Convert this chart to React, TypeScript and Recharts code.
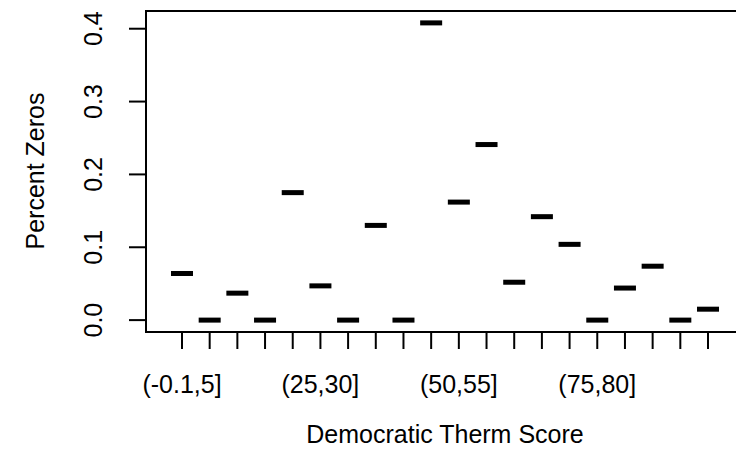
import React from 'react';
import { ScatterChart, Scatter, XAxis, YAxis, Label } from 'recharts';

// Democratic thermometer bins and share of zeros in each
const CATEGORIES = [
  '(-0.1,5]', '(5,10]', '(10,15]', '(15,20]', '(20,25]',
  '(25,30]', '(30,35]', '(35,40]', '(40,45]', '(45,50]',
  '(50,55]', '(55,60]', '(60,65]', '(65,70]', '(70,75]',
  '(75,80]', '(80,85]', '(85,90]', '(90,95]', '(95,100]'
];
const PERCENT_ZEROS = [
  0.064, 0, 0.037, 0, 0.175,
  0.047, 0, 0.130, 0, 0.408,
  0.162, 0.241, 0.052, 0.142, 0.104,
  0, 0.044, 0.074, 0, 0.015
];
// only these bin labels fit under the axis
const SHOWN_LABELS = ['(-0.1,5]', '(25,30]', '(50,55]', '(75,80]'];
const Y_TICKS = [0, 0.1, 0.2, 0.3, 0.4];

const FONT = '"Liberation Sans", Arial, sans-serif';

const data = CATEGORIES.map((name, i) => ({ pos: i + 1, value: PERCENT_ZEROS[i], name }));
const xTicks = CATEGORIES.map((_, i) => i + 1);

// R-style padding: 4% beyond the data range
const yMax = Math.max(...PERCENT_ZEROS);
const yDomain = [-yMax * 0.04, yMax * 1.04];
const xDomain = [0.5 - 0.8, CATEGORIES.length + 0.5 + 0.8];

const XTick = (props: any) => {
  const { x, payload } = props;
  const name = CATEGORIES[payload.value - 1];
  if (!SHOWN_LABELS.includes(name)) return <g />;
  return (
    <text x={x} y={393} textAnchor="middle" fontFamily={FONT} fontSize={25} fill="#000">
      {name}
    </text>
  );
};

const YTick = (props: any) => {
  const { y, payload } = props;
  return (
    <text
      x={102}
      y={y}
      transform={`rotate(-90, 102, ${y})`}
      textAnchor="middle"
      fontFamily={FONT}
      fontSize={25}
      fill="#000"
    >
      {payload.value.toFixed(1)}
    </text>
  );
};

const MedianBar = (props: any) => {
  const { cx, cy } = props;
  return <rect x={cx - 11} y={cy - 2.5} width={22} height={5} fill="#000" />;
};

export default function App() {
  return (
    <div style={{ position: 'absolute', left: 0, top: 0, width: 736, height: 470, overflow: 'hidden', background: '#fff' }}>
      <ScatterChart width={744} height={470} margin={{ top: 11, right: 0, bottom: 0, left: 0 }}>
        <XAxis
          type="number"
          dataKey="pos"
          domain={xDomain}
          ticks={xTicks}
          interval={0}
          allowDataOverflow
          height={138}
          tickSize={17}
          tick={<XTick />}
          axisLine={{ stroke: '#000', strokeWidth: 2 }}
          tickLine={{ stroke: '#000', strokeWidth: 2 }}
        >
          <Label
            content={() => (
              <text x={445} y={443} textAnchor="middle" fontFamily={FONT} fontSize={25} fill="#000">
                Democratic Therm Score
              </text>
            )}
          />
        </XAxis>
        <YAxis
          type="number"
          dataKey="value"
          domain={yDomain}
          ticks={Y_TICKS}
          interval={0}
          allowDataOverflow
          width={146}
          tickSize={17}
          tick={<YTick />}
          axisLine={{ stroke: '#000', strokeWidth: 2 }}
          tickLine={{ stroke: '#000', strokeWidth: 2 }}
        >
          <Label
            content={() => (
              <text
                x={44}
                y={171}
                transform="rotate(-90, 44, 171)"
                textAnchor="middle"
                fontFamily={FONT}
                fontSize={25}
                fill="#000"
              >
                Percent Zeros
              </text>
            )}
          />
        </YAxis>
        <Scatter data={data} shape={<MedianBar />} isAnimationActive={false} />
      </ScatterChart>
      {/* plot box (R bty="o"), right edge falls outside the picture */}
      <div
        style={{
          position: 'absolute',
          left: 145,
          top: 10,
          width: 600,
          height: 323,
          border: '2px solid #000',
          boxSizing: 'border-box',
          pointerEvents: 'none'
        }}
      />
    </div>
  );
}
